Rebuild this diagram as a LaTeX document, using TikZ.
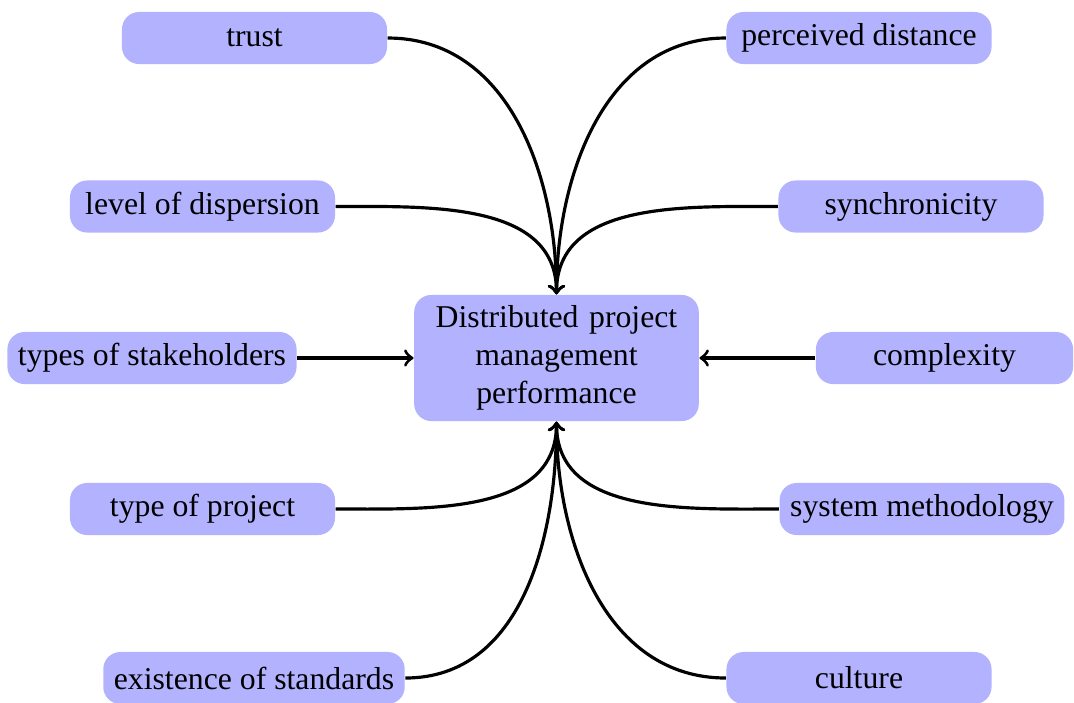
\documentclass[tikz,border=0pt]{standalone}
\usepackage{fontspec}
\setmainfont{Liberation Serif}
\begin{document}
\begin{tikzpicture}[x=0.315pt, y=-0.315pt,
  factor/.style={fill=blue!30, rounded corners=5.4pt, minimum width=83.5pt,
    minimum height=16.4pt, inner sep=3.33pt, font=\fontsize{10}{12}\selectfont},
  hub/.style={factor, text width=83pt, align=center},
  link/.style={line width=1pt, ->}]
\useasboundingbox (0,0) rectangle (1074,702);

% central concept
\node[hub] (dpm) at (556.5,358) {Distributed project management performance};

% influencing factors, left side
\node[factor] (trust) at (254.5,38) {trust};
\node[factor] (disp)  at (202.5,206.5) {level of dispersion};
\node[factor] (stake) at (152,358) {types of stakeholders};
\node[factor] (proj)  at (202.5,509) {type of project};
\node[factor] (stand) at (254,678) {existence of standards};

% influencing factors, right side
\node[factor] (dist)  at (859,38) {perceived distance};
\node[factor] (sync)  at (911,206.5) {synchronicity};
\node[factor, minimum width=81pt] (cplx) at (944.5,358) {complexity};
\node[factor] (meth)  at (922,509) {system methodology};
\node[factor] (cult)  at (859,678) {culture};

% connectors into the top of the central box
\draw[link] (trust.east) to[out=0,in=90] (dpm.north);
\draw[link] (disp.east)  to[out=0,in=90] (dpm.north);
\draw[link] (dist.west)  to[out=180,in=90] (dpm.north);
\draw[link] (sync.west)  to[out=180,in=90] (dpm.north);

% straight connectors from the sides
\draw[link] (stake.east) -- (dpm.west);
\draw[link] (cplx.west)  -- (dpm.east);

% connectors into the bottom of the central box
\draw[link] (proj.east)  to[out=0,in=-90] (dpm.south);
\draw[link] (stand.east) to[out=0,in=-90] (dpm.south);
\draw[link] (meth.west)  to[out=180,in=-90] (dpm.south);
\draw[link] (cult.west)  to[out=180,in=-90] (dpm.south);
\end{tikzpicture}
\end{document}
